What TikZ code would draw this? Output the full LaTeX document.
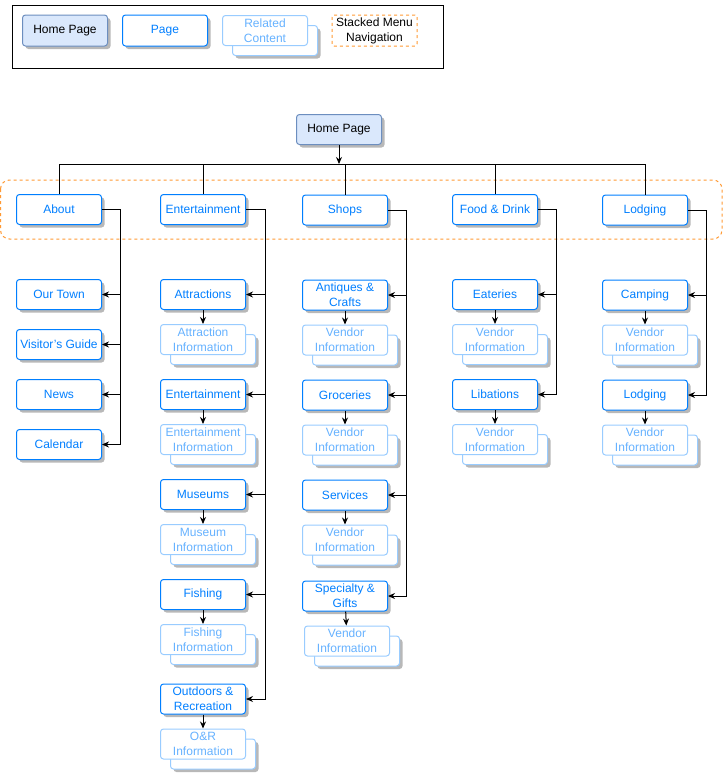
\documentclass[tikz,border=0pt]{standalone}
\usepackage{fontspec}
\setmainfont{Liberation Sans}
\usetikzlibrary{arrows.meta,shadows}
\definecolor{pageblue}{HTML}{007FFF}
\definecolor{relline}{HTML}{99CCFF}
\definecolor{reltext}{HTML}{66B2FF}
\definecolor{homefill}{HTML}{DAE8FC}
\definecolor{homeline}{HTML}{6C8EBF}
\definecolor{menuorange}{HTML}{FF9933}
\tikzset{
	box/.style={rounded corners=3pt, line width=1pt, minimum width=85pt,
		minimum height=30pt, inner sep=1pt, align=center,
		font=\fontsize{12}{15}\selectfont},
	shadowed/.style={drop shadow={shadow xshift=3pt, shadow yshift=-3pt,
		fill=black!28, opacity=1}},
	homebox/.style={box, shadowed, draw=homeline, fill=homefill, text=black},
	pagebox/.style={box, shadowed, draw=pageblue, fill=white, text=pageblue},
	relback/.style={box, shadowed, draw=relline, fill=white},
	related/.style={box, draw=relline, fill=white, text=reltext},
	arr/.style={line width=1pt, -{Stealth[length=7pt,width=6pt]}},
	link/.style={line width=1pt}
}
\newcommand{\relnode}[3]{%
	% name, position, text
	\node[relback, xshift=10pt, yshift=-10pt] at (#2) {};
	\node[related] (#1) at (#2) {#3};
}

\begin{document}
\begin{tikzpicture}[x=1pt, y=-1pt]
	\useasboundingbox (0,0) rectangle (723,774);
	% legend
	\draw[line width=1pt] (12,5) rectangle (443,68);
	\node[homebox, minimum height=31pt] (lhome) at (65,30.5) {Home Page};
	\node[pagebox, minimum height=31pt] (lpage) at (165,30.5) {Page};
	\relnode{lrel}{265,30.5}{Related\\Content}
	\node[box, draw=menuorange, dash pattern=on 3pt off 3pt, rounded corners=2pt,
		minimum height=31pt] (lmenu) at (374.5,30.5) {Stacked Menu\\Navigation};

	% stacked menu
	\draw[menuorange, line width=1pt, dash pattern=on 3pt off 3pt, rounded corners=9pt]
		(0.5,180) rectangle (722,239);

	% top levels
	\node[homebox] (home) at (339,129.5) {Home Page};
	\node[pagebox] (about) at (59,209.5) {About};
	\node[pagebox] (ent) at (203,209.5) {Entertainment};
	\node[pagebox] (shops) at (345,210) {Shops};
	\node[pagebox] (food) at (495,209.5) {Food \& Drink};
	\node[pagebox] (lodg) at (645,210) {Lodging};
	\coordinate (bus) at (339,164);
	\draw[arr] (home) -- (bus);
	\draw[link] (about.north) |- (bus);
	\draw[link] (lodg.north) |- (bus);
	\foreach \n in {ent,shops,food}
		\draw[link] (\n.north) -- (\n.north |- bus);

	% about
	\node[pagebox] (town) at (59,294.5) {Our Town};
	\node[pagebox] (guide) at (59,344.5) {Visitor's Guide};
	\node[pagebox] (news) at (59,394.5) {News};
	\node[pagebox] (cal) at (59,444.5) {Calendar};
	\coordinate (aboutbus) at (120,209.5);
	\foreach \n in {town,guide,news,cal}
		\draw[arr] (about.east) -- (aboutbus) |- (\n.east);

	% entertainment
	\node[pagebox] (attr) at (203,294.5) {Attractions};
	\relnode{attri}{203,339.5}{Attraction\\Information}
	\node[pagebox] (ents) at (203,394.5) {Entertainment};
	\relnode{entsi}{203,439.5}{Entertainment\\Information}
	\node[pagebox] (mus) at (203,494.5) {Museums};
	\relnode{musi}{203,539.5}{Museum\\Information}
	\node[pagebox] (fish) at (203,594.5) {Fishing};
	\relnode{fishi}{203,639.5}{Fishing\\Information}
	\node[pagebox] (odr) at (203,699) {Outdoors \&\\Recreation};
	\relnode{odri}{203,744}{O\&R\\Information}
	\coordinate (entbus) at (265,209.5);
	\foreach \n in {attr,ents,mus,fish,odr}{
		\draw[arr] (ent.east) -- (entbus) |- (\n.east);
		\draw[arr] (\n) -- (\n i);
	}

	% shops
	\node[pagebox] (antq) at (345,295) {Antiques \&\\Crafts};
	\relnode{antqi}{345,340}{Vendor\\Information}
	\node[pagebox] (groc) at (345,395) {Groceries};
	\relnode{groci}{345,440}{Vendor\\Information}
	\node[pagebox] (serv) at (345,495) {Services};
	\relnode{servi}{345,540}{Vendor\\Information}
	\node[pagebox] (spec) at (345,596) {Specialty \&\\Gifts};
	\relnode{speci}{347,641}{Vendor\\Information}
	\coordinate (shopsbus) at (406,210);
	\foreach \n in {antq,groc,serv,spec}{
		\draw[arr] (shops.east) -- (shopsbus) |- (\n.east);
		\draw[arr] (\n) -- (\n i);
	}

	% food & drink
	\node[pagebox] (eat) at (495,294.5) {Eateries};
	\relnode{eati}{495,339.5}{Vendor\\Information}
	\node[pagebox] (lib) at (495,394.5) {Libations};
	\relnode{libi}{495,439.5}{Vendor\\Information}
	\coordinate (foodbus) at (556,209.5);
	\foreach \n in {eat,lib}{
		\draw[arr] (food.east) -- (foodbus) |- (\n.east);
		\draw[arr] (\n) -- (\n i);
	}

	% lodging
	\node[pagebox] (camp) at (645,295) {Camping};
	\relnode{campi}{645,340}{Vendor\\Information}
	\node[pagebox] (lodgt) at (645,395) {Lodging};
	\relnode{lodgti}{645,440}{Vendor\\Information}
	\coordinate (lodgbus) at (706,210);
	\foreach \n in {camp,lodgt}{
		\draw[arr] (lodg.east) -- (lodgbus) |- (\n.east);
		\draw[arr] (\n) -- (\n i);
	}
\end{tikzpicture}
\end{document}
